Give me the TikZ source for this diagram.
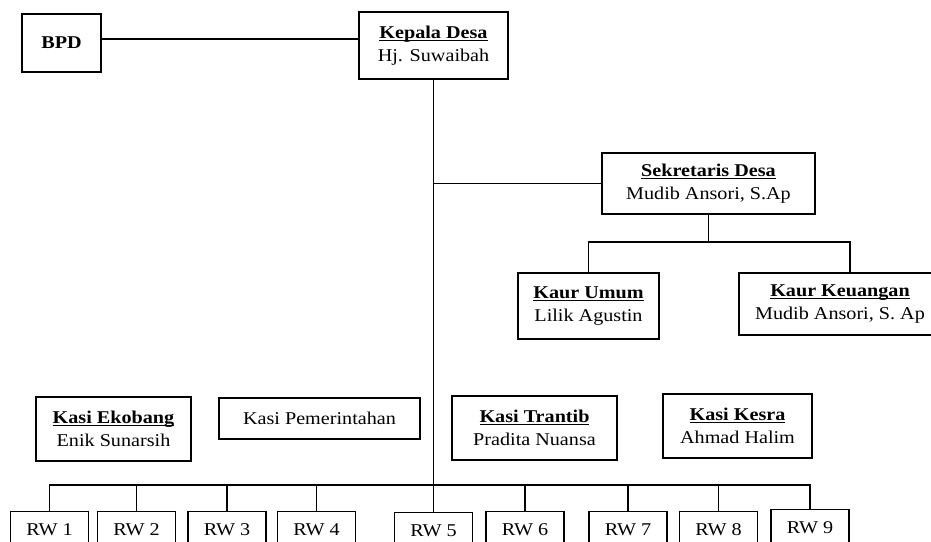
\documentclass[tikz,border=0pt]{standalone}
\usepackage{fontspec}
\setmainfont{Liberation Serif}[FakeStretch=1.12]
\newcommand\ttlx[1]{\setbox0\hbox{\textbf{#1}}\rlap{\rule[-2pt]{\wd0}{0.75pt}}\box0}
\begin{document}
\begin{tikzpicture}[x=0.75pt,y=-0.75pt,
  box/.style={draw, line width=0.8pt, inner sep=0pt, align=center,
    font=\fontsize{13.5}{17}\selectfont},
  rwbox/.style={box, anchor=north, minimum width=58.5pt, text height=18pt, text depth=20pt},
  link/.style={line width=0.8pt}]
\useasboundingbox (0,0) rectangle (931,542);
\clip (0,0) rectangle (931,542);

\node[box, minimum width=59.25pt, minimum height=43.5pt] (bpd) at (61.5,43) {\textbf{BPD}};
\node[box, minimum width=111.75pt, minimum height=50.25pt] (kades) at (433.5,45.5) {\ttlx{Kepala Desa}\\Hj. Suwaibah};
\node[box, minimum width=159.75pt, minimum height=45.75pt] (sekdes) at (708.5,183.5) {\ttlx{Sekretaris Desa}\\Mudib Ansori, S.Ap};
\node[box, minimum width=105.75pt, minimum height=49.5pt] (kaurumum) at (588.5,306) {\ttlx{Kaur Umum}\\Lilik Agustin};
\node[box, minimum width=151.5pt, minimum height=46.5pt] (kaurkeu) at (840,304) {\ttlx{Kaur Keuangan}\\Mudib Ansori, S. Ap};
\node[box, minimum width=116.25pt, minimum height=48pt] (ekobang) at (113.5,429) {\ttlx{Kasi Ekobang}\\Enik Sunarsih};
\node[box, minimum width=150.75pt, minimum height=30.75pt] (pemerintahan) at (319.5,418.5) {Kasi Pemerintahan};
\node[box, minimum width=123.75pt, minimum height=48pt] (trantib) at (534.5,428) {\ttlx{Kasi Trantib}\\Pradita Nuansa};
\node[box, minimum width=111.75pt, minimum height=48pt] (kesra) at (737.5,426) {\ttlx{Kasi Kesra}\\Ahmad Halim};

\node[rwbox] (rw1) at (49.5,511) {RW 1};
\node[rwbox] (rw2) at (136.5,511) {RW 2};
\node[rwbox] (rw3) at (227,511) {RW 3};
\node[rwbox] (rw4) at (316.5,511) {RW 4};
\node[rwbox] (rw5) at (433.5,512) {RW 5};
\node[rwbox] (rw6) at (525,511) {RW 6};
\node[rwbox] (rw7) at (628,511) {RW 7};
\node[rwbox] (rw8) at (718.5,511) {RW 8};
\node[rwbox] (rw9) at (810,509) {RW 9};

\coordinate (bpdy) at (0,39);
\draw[link] (bpd.east |- bpdy) -- (kades.west |- bpdy);
\draw[link] (kades.south) -- (rw5.north);
\draw[link] (kades.south |- sekdes.west) -- (sekdes.west);
\coordinate (sb) at (708.5,242);
\coordinate (kk) at (850,0);
\draw[link] (sekdes.south) -- (sb);
\draw[link] (kaurumum.north) |- (sb) -| (kk |- kaurkeu.north);
\coordinate (rb) at (0,485);
\draw[link] (rw1.north) |- (rw9.north |- rb) -- (rw9.north);
\foreach \i in {2,3,4,6,7,8} {
  \draw[link] (rw\i.north) -- (rw\i.north |- rb);
}
\end{tikzpicture}
\end{document}
